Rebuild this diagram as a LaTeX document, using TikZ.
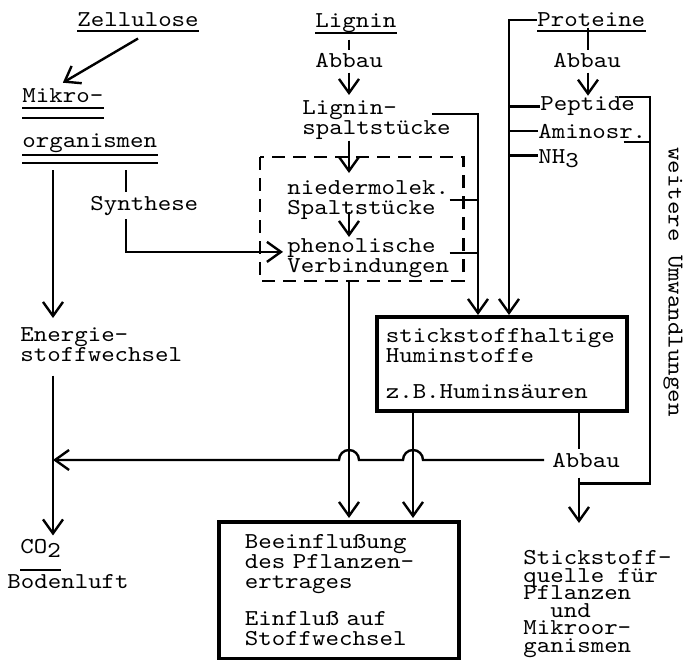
\documentclass[tikz,border=0pt]{standalone}
\usepackage{fontspec}
\usepackage{tikz}
\usetikzlibrary{arrows.meta, positioning, calc}

\newfontfamily\twfont{lmmono10-regular.otf}[FakeStretch=1.13]
\newcommand{\tw}{\fontsize{11.4}{10}\selectfont\twfont\lineskiplimit=-100pt\relax}
\newcommand{\low}[1]{\raisebox{-0.45ex}{#1}}

\begin{document}
\begin{tikzpicture}[x=0.5bp, y=-0.5bp,
  txt/.style={font=\tw, inner sep=0pt, align=left},
  con/.style={line width=1.2bp},
  arr/.style={con, -{Straight Barb[length=7bp,width=10bp]}},
  uline/.style={line width=1bp},
  kasten/.style={draw, line width=1.8bp, font=\tw, align=left, anchor=north west},
  dbox/.style={line width=1.1bp, dash pattern=on 6.5bp off 4bp}]
  \useasboundingbox (0,0) rectangle (685,660);

  % Spalten
  \coordinate (cm) at (53,0);
  \coordinate (cs) at (126,0);
  \coordinate (cl) at (349,0);
  \coordinate (ch) at (413,0);
  \coordinate (cr) at (478,0);
  \coordinate (cp) at (509,0);
  \coordinate (ca) at (579,0);
  \coordinate (cq) at (588,0);
  \coordinate (cw) at (650,0);

  % Ausgangsstoffe
  \node[txt, anchor=base west] (zell) at (77,27) {Zellulose};
  \node[txt, anchor=base west] (lig) at (315,28) {Lignin};
  \node[txt, anchor=base west] (prot) at (537,27) {Proteine};
  \draw[uline] ($(zell.base west)+(0,4)$) -- ($(zell.base east)+(0,4)$);
  \draw[uline] ($(lig.base west)+(0,5)$) -- ($(lig.base east)+(0,5)$);
  \draw[uline] ($(prot.base west)+(0,4)$) -- ($(prot.base east)+(0,4)$);

  \node[txt, anchor=base west] (mikro) at (22,103) {Mikro-};
  \node[txt, anchor=base west] (org) at (22,147) {organismen};
  \draw[uline] ($(mikro.base west)+(0,5)$) -- ($(mikro.base east)+(0,5)$);
  \draw[uline] ($(mikro.base west)+(0,15)$) -- ($(mikro.base east)+(0,15)$);
  \draw[uline] ($(org.base west)+(0,8)$) -- ($(org.base east)+(0,8)$);
  \draw[uline] ($(org.base west)+(0,16)$) -- ($(org.base east)+(0,16)$);
  \draw[arr] ($(zell.south)+(0,11)$) -- ($(mikro.north)+(0,-6)$);

  % Lignin
  \node[txt, anchor=base west] (abb1) at (315,68) {Abbau};
  \node[txt, anchor=north west] (ligsp) at (302,100) {Lignin-\\spaltstücke};
  \node[txt, anchor=north west] (nied) at (287,180) {niedermolek.\\Spaltstücke};
  \node[txt, anchor=north west] (phen) at (287,238) {phenolische\\Verbindungen};
  \draw[con] ($(lig.south -| cl)+(0,6)$) -- ($(abb1.north -| cl)+(0,-3)$);
  \draw[arr] ($(abb1.south -| cl)+(0,4)$) -- ($(ligsp.north -| cl)+(0,-5)$);
  \draw[arr] ($(ligsp.south -| cl)+(0,1)$) -- ($(nied.north -| cl)+(0,-7)$);
  \draw[arr] ($(nied.south -| cl)+(0,-8)$) -- ($(phen.north -| cl)+(0,-1)$);
  \draw[dbox] ($(nied.north west)+(-27,-23)$) rectangle ($(phen.south east)+(14,3)$);

  % Proteine
  \node[txt, anchor=base west] (abb2) at (553,68) {Abbau};
  \node[txt, anchor=base west] (pep) at (540,111) {Peptide};
  \node[txt, anchor=base west] (amino) at (538,138) {Aminosr.};
  \node[txt, anchor=base west] (nh3) at (538,163) {NH\low{3}};
  \draw[con] ($(prot.south -| cq)+(0,0)$) -- ($(abb2.north -| cq)+(0,-3)$);
  \draw[arr] ($(abb2.south -| cq)+(0,4)$) -- ($(pep.north -| cq)+(0,-1)$);

  % Huminstoffe und Folgen
  \node[kasten, text width=116bp, inner xsep=4.5bp, inner ysep=6bp] (hum) at (375,315)
    {stickstoffhaltige\\Huminstoffe\\[8bp]z.B.Huminsäuren};
  \node[kasten, text width=94bp, inner xsep=13bp, inner ysep=6.5bp] (bee) at (217,520)
    {Beeinflußung\\des Pflanzen-\\ertrages\\[8.5bp]Einfluß auf\\Stoffwechsel};
  \node[txt, anchor=north west] (energ) at (20,327) {Energie-\\stoffwechsel};
  \node[txt, anchor=base west] (co2) at (20,553) {CO\low{2}};
  \node[txt, anchor=base west] (bod) at (7,588) {Bodenluft};
  \draw[uline] ($(co2.base west)+(0,17)$) -- ($(co2.base east)+(0,17)$);
  \node[txt, anchor=base west] (abb3) at (552,467) {Abbau};
  \node[txt, anchor=north west, font={\tw\baselineskip=8.8bp}] (stick) at (523,550)
    {Stickstoff-\\quelle für\\Pflanzen\\\phantom{xx}und\\Mikroor-\\ganismen};
  \node[txt, rotate=-90] (weit) at (673,282) {weitere Umwandlungen};

  % Verbindungen
  \draw[arr] ($(org.base -| cm)+(0,23)$) -- ($(energ.north -| cm)+(0,-9)$);
  \draw[arr] ($(org.base -| cs)+(0,23)$) |- ($(phen.west)+(-4,-6)$);
  \node[txt, anchor=base west, fill=white, inner ysep=2bp] (syn) at (90,210) {Synthese};
  \draw[arr] ($(energ.south -| cm)+(0,14)$) -- ($(co2.north -| cm)+(0,-3)$);

  \draw[arr] ($(ligsp.north east)+(-19,14)$) -| (hum.north -| cr);
  \draw[con] (nied.east) -- (nied.east -| cr);
  \draw[con] ($(phen.east)+(0,-5)$) -- ($(phen.east -| cr)+(0,-5)$);
  \draw[arr] (prot.west) -| (hum.north -| cp);
  \draw[con] (pep.west) -- (pep.west -| cp);
  \draw[con] (amino.west) -- (amino.west -| cp);
  \draw[con] ($(nh3.west)+(0,-3)$) -- ($(nh3.west -| cp)+(0,-3)$);

  \draw[con] ($(pep.north east)+(-16,0)$) -| ($(abb3.south -| cw)+(0,16)$) -- ($(abb3.south -| ca)+(0,16)$);
  \draw[con] ($(amino.base east)+(-23,4)$) -- ($(amino.base -| cw)+(0,4)$);

  \draw[arr] ($(phen.south -| cl)+(0,3)$) -- ($(bee.north -| cl)+(0,-2)$);
  \draw[arr] (hum.south -| ch) -- ($(bee.north -| ch)+(0,-2)$);
  \draw[con] (hum.south -| ca) -- ($(abb3.north -| ca)+(0,-3)$);
  \draw[arr] ($(abb3.south -| ca)+(0,10)$) -- ($(stick.north -| ca)+(0,-27)$);
  \draw[arr] ($(abb3.west)+(-8,0)$) -- ($(abb3.west -| ch)+(10,0)$)
    arc[start angle=0, end angle=180, radius=5bp]
    -- ($(abb3.west -| cl)+(10,0)$)
    arc[start angle=0, end angle=180, radius=5bp]
    -- (abb3.west -| cm);
\end{tikzpicture}
\end{document}
